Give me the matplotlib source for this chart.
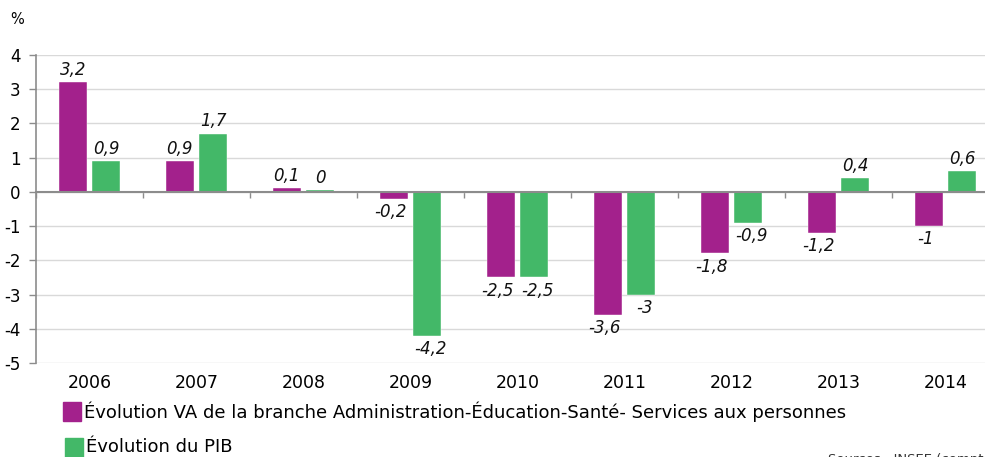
import matplotlib
matplotlib.use("Agg")
import matplotlib.pyplot as plt
import matplotlib.transforms as mtransforms
import numpy as np

# ── Données ───────────────────────────────────────────────────────────────────
annees = ["2006", "2007", "2008", "2009", "2010", "2011", "2012", "2013", "2014"]
va_branche = [3.2, 0.9, 0.1, -0.2, -2.5, -3.6, -1.8, -1.2, -1.0]
pib = [0.9, 1.7, 0.05, -4.2, -2.5, -3.0, -0.9, 0.4, 0.6]
lab_va = ["3,2", "0,9", "0,1", "-0,2", "-2,5", "-3,6", "-1,8", "-1,2", "-1"]
lab_pib = ["0,9", "1,7", "0", "-4,2", "-2,5", "-3", "-0,9", "0,4", "0,6"]
yticks = [-5, -4, -3, -2, -1, 0, 1, 2, 3, 4]

leg_va = "Évolution VA de la branche Administration-Éducation-Santé- Services aux personnes"
leg_pib = "Évolution du PIB"

VIOLET = "#a3218c"
VERT = "#43b868"
GRIS = "#8c8c8c"

plt.rcParams["font.family"] = ["DejaVu Sans"]
plt.rcParams["axes.unicode_minus"] = False

fig = plt.figure(figsize=(9.85, 4.57), dpi=100)
# la zone de tracé déborde un peu à droite, comme dans l'original (coupé)
ax = fig.add_axes([36 / 985, 1 - 363 / 457, 963 / 985, 308 / 457])

x = np.arange(len(annees))
w = 0.265
off = 0.155
ax.bar(x - off, va_branche, w, color=VIOLET, edgecolor="white", linewidth=0.3, zorder=3)
ax.bar(x + off, pib, w, color=VERT, edgecolor="white", linewidth=0.3, zorder=3)

# étiquettes de valeurs (légèrement écartées sous les barres négatives)
for xs, vals, labs, dx in ((x - off, va_branche, lab_va, -0.03),
                           (x + off, pib, lab_pib, 0.03)):
    for xi, v, t in zip(xs, vals, labs):
        if v >= 0:
            ax.text(xi, v + 0.1, t, ha="center", va="bottom", fontsize=12,
                    style="italic", color="#111111", zorder=4)
        else:
            ax.text(xi + dx, v - 0.12, t, ha="center", va="top", fontsize=12,
                    style="italic", color="#111111", zorder=4)

ax.set_xlim(-0.5, len(annees) - 0.5)
ax.set_ylim(-5, 4)
ax.set_yticks(yticks)
ax.set_yticklabels([str(v) for v in yticks], fontsize=12)
ax.grid(axis="y", color="#d9d9d9", linewidth=1.0, zorder=0)

# axe des x sur le zéro, graduations aux limites de catégories
ax.set_xticks(np.arange(len(annees) + 1) - 0.5)
ax.set_xticklabels([])
ax.spines["bottom"].set_position(("data", 0))
ax.spines["bottom"].set_color(GRIS)
ax.spines["bottom"].set_linewidth(1.5)
ax.spines["bottom"].set_zorder(5)
ax.spines["left"].set_color(GRIS)
ax.spines["left"].set_linewidth(1.2)
ax.spines["top"].set_visible(False)
ax.spines["right"].set_visible(False)
ax.tick_params(axis="x", direction="out", length=4, color=GRIS, width=1)
ax.tick_params(axis="y", direction="out", length=5, color=GRIS, width=1, pad=6)

trans = mtransforms.blended_transform_factory(ax.transData, ax.transAxes)
for xi, a in zip(x, annees):
    ax.text(xi, -0.035, a, transform=trans, ha="center", va="top", fontsize=12.5)

fig.text(10 / 985, 1 - 20 / 457, "%", fontsize=10.5, va="center")

# légende
fig.patches.append(plt.Rectangle((63 / 985, 1 - 421 / 457), 18 / 985, 19 / 457,
                                 transform=fig.transFigure, color=VIOLET))
fig.text(84 / 985, 1 - 412 / 457, leg_va, fontsize=13, va="center")
fig.patches.append(plt.Rectangle((65 / 985, 1 - 457 / 457), 18 / 985, 19 / 457,
                                 transform=fig.transFigure, color=VERT))
fig.text(86 / 985, 1 - 447 / 457, leg_pib, fontsize=13, va="center")

fig.text(828 / 985, 1 - 460 / 457, "Sources : INSEE (comptes nationaux)", fontsize=9.5,
         va="center", color="#333333")

fig.savefig("out.png", dpi=100)
